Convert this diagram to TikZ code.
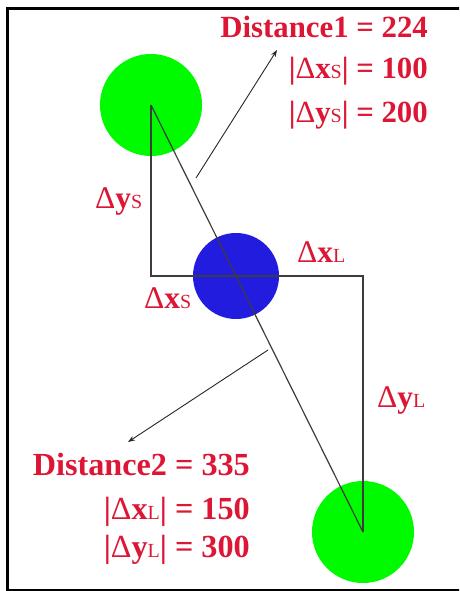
\documentclass[tikz,border=0pt]{standalone}
\usepackage{fontspec}
\setmainfont{Liberation Serif}
\usetikzlibrary{arrows.meta}
\definecolor{lred}{RGB}{220,22,52}
\definecolor{lgreen}{RGB}{0,250,0}
\definecolor{lblue}{RGB}{34,28,222}
\definecolor{lgray}{RGB}{60,60,60}
\newcommand{\dd}[2]{{\mdseries Δ}{\bfseries #1}{\mdseries\fontsize{20}{20}\selectfont #2}}
\tikzset{
  lbl/.style={text=lred,font=\fontsize{31.5}{31.5}\selectfont\bfseries,inner sep=0pt},
  lbltop/.style={lbl,font=\fontsize{30.8}{30.8}\selectfont\bfseries},
  lblbot/.style={lbl,font=\fontsize{32.2}{32.2}\selectfont\bfseries},
  ln/.style={draw=lgray,line width=1.2pt},
  arr/.style={draw=black!85,line width=0.9pt,-{Stealth[length=7pt,width=5pt]}},
  ball/.style={circle,inner sep=0pt,minimum size=#1}
}
\begin{document}
\begin{tikzpicture}[x=1pt,y=-1pt]
\useasboundingbox (0,0) rectangle (459,591);
\begin{scope}
\clip (0,0) rectangle (459,591);
\draw[line width=3pt] (7.5,8.5) rectangle (480,590);
\end{scope}
% balls
\node[ball=102pt,fill=lgreen] (g1) at (151,105) {};
\node[ball=102pt,fill=lgreen] (g2) at (363,532) {};
\node[ball=86pt,fill=lblue] (b) at (236,276) {};
\coordinate (c1) at (151,105);
\coordinate (c2) at (363,532);
\coordinate (k1) at (151,276);
\coordinate (k2) at (363,276);
\draw[ln] (c1) -- (k1) -- (k2) -- (c2);
\draw[ln] (c1) -- (c2);
% arrows
\coordinate (t1) at (196,178);
\coordinate (h1) at (277,50);
\coordinate (t2) at (268,350);
\coordinate (h2) at (128,442);
\draw[arr] (t1) -- (h1);
\draw[arr] (t2) -- (h2);
% labels
\node[lbltop,anchor=base east] (d1) at (428,38) {Distance1 = 224};
\node[lbltop,anchor=base east] (d1x) at (428,79) {|\dd{x}{S}| = 100};
\node[lbltop,anchor=base east] (d1y) at (428,122) {|\dd{y}{S}| = 200};
\node[lblbot,anchor=base east] (d2) at (250,475) {Distance2 = 335};
\node[lblbot,anchor=base east] (d2x) at (250,519) {|\dd{x}{L}| = 150};
\node[lblbot,anchor=base east] (d2y) at (250,557) {|\dd{y}{L}| = 300};
\node[lbl,anchor=base west] (ys) at (95,208) {\dd{y}{S}};
\node[lbl,anchor=base west] (xl) at (297,262) {\dd{x}{L}};
\node[lbl,anchor=base west] (xs) at (144,308) {\dd{x}{S}};
\node[lbl,anchor=base west] (yl) at (377,407) {\dd{y}{L}};
\end{tikzpicture}
\end{document}
